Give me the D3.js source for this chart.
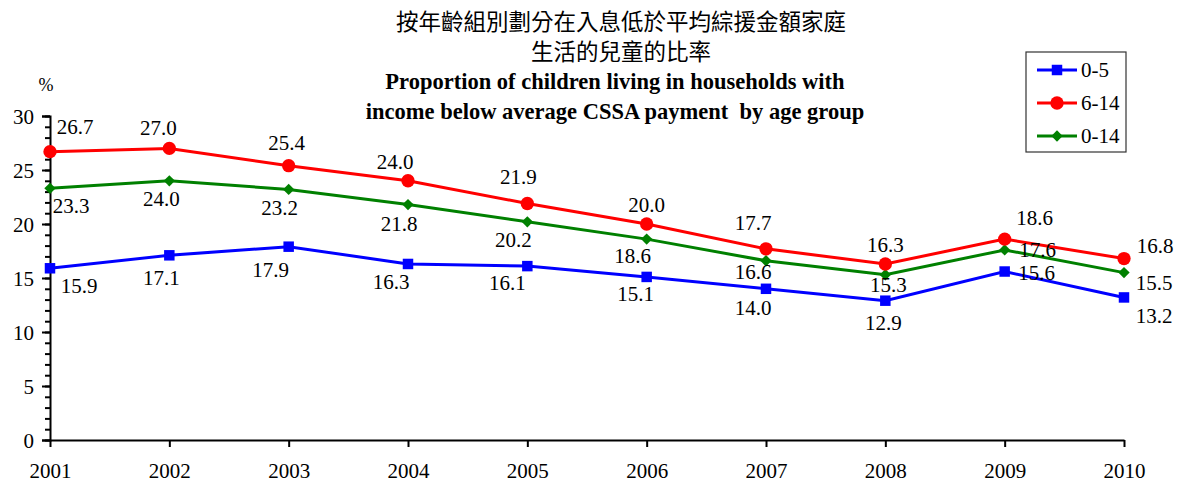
<!DOCTYPE html>
<html>
<head>
<meta charset="utf-8">
<script src="https://cdn.jsdelivr.net/npm/d3@7"></script>
<style>
  body { margin: 0; background: #fff; }
  svg text { font-family: "Liberation Serif", "Times New Roman", serif; fill: #000; }
</style>
</head>
<body>
<script>
// data
const years = ["2001", "2002", "2003", "2004", "2005", "2006", "2007", "2008", "2009", "2010"];
const age0to5 = [15.9, 17.1, 17.9, 16.3, 16.1, 15.1, 14.0, 12.9, 15.6, 13.2];
const age6to14 = [26.7, 27.0, 25.4, 24.0, 21.9, 20.0, 17.7, 16.3, 18.6, 16.8];
const age0to14 = [23.3, 24.0, 23.2, 21.8, 20.2, 18.6, 16.6, 15.3, 17.6, 15.5];
const yTicks = [0, 5, 10, 15, 20, 25, 30];
const titleZh = ["按年齡組別劃分在入息低於平均綜援金額家庭", "生活的兒童的比率"];
const titleEn = ["Proportion of children living in households with", "income below average CSSA payment  by age group"];

// where each value label sits relative to its point
const offsets614 = [[25,-25],[-11,-21],[-2,-23],[-13,-19],[-9,-27],[0,-19],[-13,-26],[0,-19],[30,-21],[31,-13]];
const offsets014 = [[21,17],[-8,18],[-9,18],[-9,19],[-14,18],[-14,17],[-13,11],[3,10],[33,0],[30,10]];
const offsets05 = [[29,17],[-8,22],[-18,23],[-17,18],[-20,17],[-11,17],[-13,19],[-2,22],[32,1],[30,18]];

const width = 1177, height = 484;

const svg = d3.select("body").append("svg")
  .attr("width", width)
  .attr("height", height);

const x = d3.scalePoint().domain(years).range([50, 1124]);
const y = d3.scaleLinear().domain([0, 30]).range([440, 116]);

// titles
svg.append("g").selectAll("text")
  .data(titleZh)
  .join("text")
  .attr("x", 621)
  .attr("y", (d, i) => 22 + i * 30)
  .attr("dy", "0.35em")
  .attr("text-anchor", "middle")
  .style("font-family", "'Noto Sans CJK TC', sans-serif")
  .style("font-size", "22.5px")
  .text(d => d);

svg.append("g").selectAll("text")
  .data(titleEn)
  .join("text")
  .attr("x", 615)
  .attr("y", (d, i) => 81 + i * 30)
  .attr("dy", "0.35em")
  .attr("text-anchor", "middle")
  .style("font-size", "22.5px")
  .style("font-weight", "bold")
  .style("white-space", "pre")
  .text(d => d);

// y axis: minor ticks every unit, labelled every 5
const yAxisG = svg.append("g").attr("transform", "translate(50,0)");
yAxisG.append("g")
  .call(d3.axisLeft(y).tickValues(d3.range(0, 31)).tickSize(5).tickFormat(""))
  .call(g => g.select(".domain").remove());
yAxisG.append("g")
  .call(d3.axisLeft(y).tickValues(yTicks).tickSize(8).tickPadding(8).tickFormat(d3.format("d")))
  .call(g => g.selectAll("text").style("font-size", "21px").attr("dy", "0.35em"));
yAxisG.selectAll("line, path").attr("stroke", "#000").attr("stroke-width", 2);

svg.append("text")
  .attr("x", 46).attr("y", 85).attr("dy", "0.35em")
  .attr("text-anchor", "middle")
  .style("font-size", "18px")
  .text("%");

// x axis
const xAxisG = svg.append("g")
  .attr("transform", "translate(0,440)")
  .call(d3.axisBottom(x).tickSize(7).tickPadding(16).tickSizeOuter(0));
xAxisG.selectAll("line, path").attr("stroke", "#000").attr("stroke-width", 2);
xAxisG.selectAll("text").style("font-size", "21px");

const series = [
  { name: "0-5", values: age0to5, color: "#0000ff", shape: d3.symbolSquare, size: 110, rotate: 0, offsets: offsets05 },
  { name: "6-14", values: age6to14, color: "#ff0000", shape: d3.symbolCircle, size: 140, rotate: 0, offsets: offsets614 },
  { name: "0-14", values: age0to14, color: "#008000", shape: d3.symbolSquare, size: 64, rotate: 45, offsets: offsets014 }
];

const line = d3.line()
  .x((d, i) => x(years[i]))
  .y(d => y(d));

// draw 0-5 first, then 0-14, then 6-14 on top
const drawOrder = [series[0], series[2], series[1]];

drawOrder.forEach(s => {
  const g = svg.append("g");
  g.append("path")
    .attr("d", line(s.values))
    .attr("fill", "none")
    .attr("stroke", s.color)
    .attr("stroke-width", 3);
  g.selectAll("path.mark")
    .data(s.values)
    .join("path")
    .attr("class", "mark")
    .attr("d", d3.symbol().type(s.shape).size(s.size))
    .attr("transform", (d, i) => `translate(${x(years[i])},${y(d)}) rotate(${s.rotate})`)
    .attr("fill", s.color);
});

series.forEach(s => {
  svg.append("g").selectAll("text")
    .data(s.values)
    .join("text")
    .attr("x", (d, i) => x(years[i]) + s.offsets[i][0])
    .attr("y", (d, i) => y(d) + s.offsets[i][1])
    .attr("dy", "0.35em")
    .attr("text-anchor", "middle")
    .style("font-size", "21px")
    .text(d => d.toFixed(1));
});

// legend
const legend = svg.append("g").attr("transform", "translate(1026,52)");
legend.append("rect")
  .attr("width", 100).attr("height", 100)
  .attr("fill", "#fff")
  .attr("stroke", "#333")
  .attr("stroke-width", 1.2);
const rows = legend.selectAll("g.row")
  .data(series)
  .join("g")
  .attr("class", "row")
  .attr("transform", (d, i) => `translate(0,${18 + i * 33})`);
rows.append("line")
  .attr("x1", 11).attr("x2", 51)
  .attr("stroke", d => d.color)
  .attr("stroke-width", 3);
rows.append("path")
  .attr("d", d => d3.symbol().type(d.shape).size(d.size)())
  .attr("transform", d => `translate(31,0) rotate(${d.rotate})`)
  .attr("fill", d => d.color);
rows.append("text")
  .attr("x", 55).attr("dy", "0.35em")
  .style("font-size", "21px")
  .text(d => d.name);
</script>
</body>
</html>
